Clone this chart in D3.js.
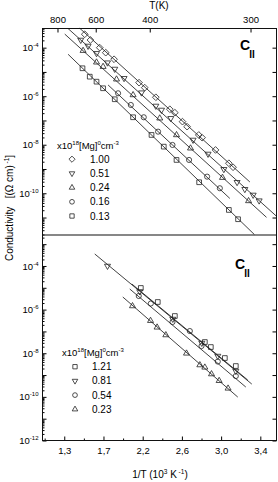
<!DOCTYPE html>
<html>
<head>
<meta charset="utf-8">
<script src="https://cdn.jsdelivr.net/npm/d3@7"></script>
<style>
  body { margin: 0; background: #fff; }
  svg { display: block; font-family: "Liberation Sans", Arial, sans-serif; }
</style>
</head>
<body>
<svg id="drawing_region"></svg>
<script>
// x = 1/T position, y = log10 conductivity
const xTickVals = [1.4, 1.8, 2.2, 2.6, 3.0, 3.4];
const xTickLabels = ['1,3', '1,7', '2,2', '2,6', '3,0', '3,4'];
const topTickPos = [1.331, 1.721, 2.272, 3.30];
const topTickLabels = ['800', '600', '400', '300'];

// upper panel
const upperNames = ['1.00', '0.51', '0.24', '0.16', '0.13'];
const upperSymbols = ['diamond', 'down', 'up', 'circle', 'square'];
const upperX = [
  [1.609, 1.667, 1.762, 1.823, 1.908, 2.163, 2.221, 2.334, 2.477, 2.528, 2.606, 2.653, 2.772, 2.806, 2.943, 3.079, 3.122],
  [1.568, 1.643, 1.729, 1.841, 1.915, 2.010, 2.188, 2.334, 2.392, 2.487, 2.714, 2.867, 3.028, 3.163, 3.242, 3.327, 3.388],
  [1.592, 1.729, 1.796, 1.933, 2.102, 2.374, 2.545, 2.688, 3.014, 3.280],
  [1.949, 2.079, 2.211, 2.357, 2.504, 2.673, 2.857, 2.987],
  [1.586, 1.660, 1.729, 1.796, 1.915, 2.102, 2.290, 2.415, 2.545, 2.776, 3.079, 3.173]
];
const upperY = [
  [-3.448, -3.683, -4.000, -4.206, -4.478, -5.442, -5.648, -6.044, -6.538, -6.678, -7.049, -7.255, -7.597, -7.708, -8.215, -8.763, -8.928],
  [-3.683, -3.930, -4.231, -4.618, -4.878, -5.261, -5.854, -6.402, -6.567, -6.909, -7.803, -8.380, -9.010, -9.546, -9.834, -10.069, -10.304],
  [-4.124, -4.602, -4.783, -5.302, -5.949, -6.909, -7.597, -8.145, -9.356, -10.316],
  [-5.879, -6.361, -6.868, -7.461, -8.009, -8.627, -9.315, -9.793],
  [-4.849, -5.195, -5.401, -5.673, -6.126, -6.868, -7.597, -8.079, -8.627, -9.546, -10.687, -11.070]
];
// fitted lines: [x0, y0, x1, y1]
const upperFits = [
  [1.558, -3.201, 3.293, -9.534],
  [1.438, -3.209, 3.565, -10.947],
  [1.405, -3.440, 3.463, -10.992],
  [1.847, -5.537, 3.089, -10.213],
  [1.439, -4.272, 3.339, -11.70]
];

// lower panel
const lowerNames = ['1.21', '0.81', '0.54', '0.23'];
const lowerSymbols = ['square', 'down', 'circle', 'up'];
const lowerX = [
  [2.181, 2.354, 2.528, 2.834, 2.895, 3.038, 3.150],
  [1.841, 2.170, 2.507, 2.803, 2.966, 3.150],
  [2.160, 2.283, 2.504, 2.681, 2.800, 2.966, 3.150],
  [2.096, 2.280, 2.347, 2.436, 2.647, 2.783, 2.834, 2.902, 2.980, 3.071]
];
const lowerY = [
  [-5.009, -5.651, -6.294, -7.486, -7.716, -8.220, -8.587],
  [-4.000, -5.170, -6.431, -7.532, -8.128, -8.817],
  [-5.376, -5.720, -6.569, -6.982, -7.670, -8.381, -9.046],
  [-5.835, -6.509, -6.812, -7.165, -8.005, -8.541, -8.647, -8.954, -9.261, -9.610]
];
const lowerFits = [
  [2.089, -4.826, 3.272, -9.229],
  [1.711, -3.450, 3.313, -9.413],
  [2.068, -5.055, 3.252, -9.550],
  [1.997, -5.422, 3.170, -10.009]
];

const W = 278, H = 482;
const pLeft = 42.5, pRight = 276.5, pTop = 28.5, pMid = 235, pBottom = 440.5;
const font = '"Liberation Sans", Arial, sans-serif';

const svg = d3.select('#drawing_region').attr('width', W).attr('height', H);

const x = d3.scaleLinear().domain([1.178, 3.565]).range([pLeft, pRight]);
const yUp = d3.scaleLog().domain([Math.pow(10, -11.72), Math.pow(10, -3.21)]).range([pMid, pTop]);
const yLo = d3.scaleLog().domain([1e-12, Math.pow(10, -2.58)]).range([pBottom, pMid]);

function symbolPath(type, size) {
  if (type === 'circle') return d3.symbol(d3.symbolCircle, size * 0.8)();
  if (type === 'square') return d3.symbol(d3.symbolSquare, size * 0.85)();
  if (type === 'diamond') return d3.symbol(d3.symbolDiamond2, size * 1.1)();
  return d3.symbol(d3.symbolTriangle2, size)();
}
function drawSymbol(g, type, cx, cy, size) {
  g.append('path')
    .attr('d', symbolPath(type, size))
    .attr('transform', `translate(${cx},${cy})` + (type === 'down' ? ' rotate(180)' : ''))
    .attr('fill', 'none')
    .attr('stroke', '#222')
    .attr('stroke-width', 0.8);
}

function decadeLabel(sel) {
  sel.each(function(d) {
    const e = Math.round(Math.log10(d));
    const t = d3.select(this).text(null);
    t.append('tspan').text('10');
    t.append('tspan').attr('dy', -4).attr('font-size', 6).text(e);
  });
}

function drawPanel(y, labelExps, xs, ys, fits, symbols) {
  const g = svg.append('g');
  const dom = y.domain();
  const decades = d3.range(Math.ceil(Math.log10(dom[0])), Math.floor(Math.log10(dom[1])) + 1).map(e => Math.pow(10, e));
  const minors = [];
  d3.range(Math.floor(Math.log10(dom[0])), Math.ceil(Math.log10(dom[1]))).forEach(e => {
    for (let k = 2; k < 10; k++) {
      const v = k * Math.pow(10, e);
      if (v > dom[0] && v < dom[1]) minors.push(v);
    }
  });

  // left minor ticks
  g.append('g').attr('transform', `translate(${pLeft},0)`)
    .call(d3.axisLeft(y).tickValues(minors).tickSize(-2).tickFormat(''))
    .call(s => s.select('.domain').remove());
  // left major ticks
  g.append('g').attr('transform', `translate(${pLeft},0)`)
    .call(d3.axisLeft(y).tickValues(decades).tickSize(-4).tickFormat(''))
    .call(s => s.select('.domain').remove());
  // labels
  const lab = g.append('g').attr('transform', `translate(${pLeft},0)`)
    .call(d3.axisLeft(y).tickValues(labelExps.map(e => Math.pow(10, e))).tickSize(0).tickPadding(4));
  lab.select('.domain').remove();
  lab.selectAll('text').attr('font-size', 9.5).attr('font-family', font).call(decadeLabel);
  // right ticks
  g.append('g').attr('transform', `translate(${pRight},0)`)
    .call(d3.axisRight(y).tickValues(decades).tickSize(-4).tickFormat(''))
    .call(s => s.select('.domain').remove());

  // fits
  fits.forEach(f => {
    g.append('line')
      .attr('x1', x(f[0])).attr('y1', y(Math.pow(10, f[1])))
      .attr('x2', x(f[2])).attr('y2', y(Math.pow(10, f[3])))
      .attr('stroke', '#111').attr('stroke-width', 0.8);
  });
  // points
  xs.forEach((arr, i) => {
    arr.forEach((xv, j) => drawSymbol(g, symbols[i], x(xv), y(Math.pow(10, ys[i][j])), 26));
  });
}

drawPanel(yUp, [-4, -6, -8, -10], upperX, upperY, upperFits, upperSymbols);
drawPanel(yLo, [-4, -6, -8, -10, -12], lowerX, lowerY, lowerFits, lowerSymbols);

// bottom axis
const minorX = d3.range(xTickVals.length - 1).map(i => (xTickVals[i] + xTickVals[i + 1]) / 2).concat([xTickVals[0] - 0.2]);
svg.append('g').attr('transform', `translate(0,${pBottom})`)
  .call(d3.axisBottom(x).tickValues(minorX).tickSize(-2).tickFormat(''))
  .call(s => s.select('.domain').remove());
const xAxisG = svg.append('g').attr('transform', `translate(0,${pBottom})`)
  .call(d3.axisBottom(x).tickValues(xTickVals).tickSize(-4).tickPadding(7)
    .tickFormat((d, i) => xTickLabels[i]));
xAxisG.select('.domain').remove();
xAxisG.selectAll('text').attr('font-size', 9.5).attr('font-family', font);

// top axis
const topAxisG = svg.append('g').attr('transform', `translate(0,${pTop})`)
  .call(d3.axisTop(x).tickValues(topTickPos).tickSize(-4).tickPadding(6)
    .tickFormat((d, i) => topTickLabels[i]));
topAxisG.select('.domain').remove();
topAxisG.selectAll('text').attr('font-size', 9.5).attr('font-family', font);

// frames
svg.append('rect').attr('x', pLeft).attr('y', pTop).attr('width', pRight - pLeft).attr('height', pBottom - pTop)
  .attr('fill', 'none').attr('stroke', '#111').attr('stroke-width', 1);
svg.append('line').attr('x1', pLeft).attr('x2', pRight).attr('y1', pMid).attr('y2', pMid)
  .attr('stroke', '#111').attr('stroke-width', 1.2);

// C|| labels
function cLabel(cx, cy) {
  const t = svg.append('text').attr('x', cx).attr('y', cy).attr('font-size', 14).attr('font-weight', 'bold');
  t.append('tspan').text('C');
  t.append('tspan').attr('dx', -1).attr('dy', 8).attr('font-size', 10).text('II');
}
cLabel(240, 50);
cLabel(235, 269);

// legends
function legend(x0, y0, names, symbols, mx, tx) {
  const h = svg.append('text').attr('x', x0).attr('y', y0).attr('font-size', 9.5);
  h.append('tspan').text('x10');
  h.append('tspan').attr('dy', -4).attr('font-size', 6).text('18');
  h.append('tspan').attr('dy', 4).text('[Mg]');
  h.append('tspan').attr('dy', -4).attr('font-size', 6).text('0');
  h.append('tspan').attr('dy', 4).text('cm');
  h.append('tspan').attr('dy', -4).attr('font-size', 6).text('-3');
  names.forEach((n, i) => {
    const yy = y0 + 14.2 * (i + 1);
    drawSymbol(svg, symbols[i], mx, yy - 3.5, 22);
    svg.append('text').attr('x', tx).attr('y', yy).attr('font-size', 10).text(n);
  });
}
legend(57, 148.5, upperNames, upperSymbols, 72, 90);
legend(62, 356, lowerNames, lowerSymbols, 75, 92);

// titles
svg.append('text').attr('x', 159).attr('y', 9).attr('text-anchor', 'middle').attr('font-size', 10).text('T(K)');
const xt = svg.append('text').attr('x', 160).attr('y', 478).attr('text-anchor', 'middle').attr('font-size', 10);
xt.append('tspan').text('1/T (10');
xt.append('tspan').attr('dy', -4).attr('font-size', 6.5).text('3');
xt.append('tspan').attr('dy', 4).text(' K');
xt.append('tspan').attr('dy', -4).attr('font-size', 6.5).text(' -1');
xt.append('tspan').attr('dy', 4).text(')');

const yt = svg.append('text').attr('transform', 'translate(13,208) rotate(-90)').attr('text-anchor', 'middle').attr('font-size', 10)
  .attr('xml:space', 'preserve').style('white-space', 'pre');
yt.append('tspan').text('Conductivity   [(\u03A9 cm)');
yt.append('tspan').attr('dy', -4).attr('font-size', 6.5).text(' -1');
yt.append('tspan').attr('dy', 4).text(']');
</script>
</body>
</html>
